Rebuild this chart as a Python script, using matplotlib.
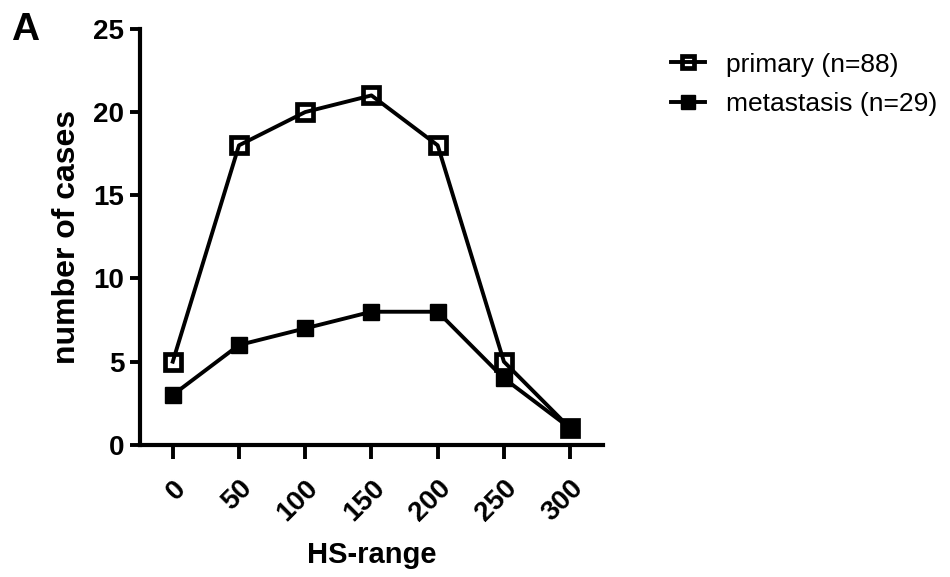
import matplotlib
matplotlib.use("Agg")
import matplotlib.pyplot as plt

plt.rcParams["font.family"] = ["Liberation Sans", "DejaVu Sans"]

hs_range = [0, 50, 100, 150, 200, 250, 300]
primary = [5, 18, 20, 21, 18, 5, 1]
metastasis = [3, 6, 7, 8, 8, 4, 1]
labels = ["primary (n=88)", "metastasis (n=29)"]

fig = plt.figure(figsize=(9.5, 5.77), dpi=100)
ax = fig.add_axes([0.147, 0.229, 0.488, 0.721])

# open squares are hollow: the connecting line shows through them
ax.plot(hs_range, primary, color="black", lw=2.8, marker="s", ms=11,
        mfc="none", mec="black", mew=3.4, label=labels[0], zorder=3, clip_on=False)
ax.plot(hs_range, metastasis, color="black", lw=2.8, marker="s", ms=11.5,
        mfc="black", mec="black", label=labels[1], zorder=2, clip_on=False)

ax.set_xlim(-25, 325)
ax.set_ylim(0, 25)
ax.set_xticks(hs_range)
ax.set_yticks([0, 5, 10, 15, 20, 25])
ax.set_xticklabels([str(v) for v in hs_range], rotation=45, ha="right",
                   rotation_mode="anchor", fontsize=20, fontweight="bold")
ax.set_yticklabels(["0", "5", "10", "15", "20", "25"], fontsize=20, fontweight="bold")
ax.tick_params(axis="both", width=2.8, length=7, direction="out")
ax.tick_params(axis="x", length=10, pad=12)
ax.tick_params(axis="y", pad=4)

for s in ["top", "right"]:
    ax.spines[s].set_visible(False)
for s in ["left", "bottom"]:
    ax.spines[s].set_linewidth(3)

ax.set_xlabel("HS-range", fontsize=21, fontweight="bold", labelpad=10)
ax.set_ylabel("number of cases", fontsize=23, fontweight="bold", labelpad=8)

fig.text(0.012, 0.93, "A", fontsize=28, fontweight="bold")

ax.legend(loc="upper left", bbox_to_anchor=(1.095, 1.0), frameon=False,
          fontsize=19, handlelength=1.3, handletextpad=0.8, labelspacing=0.6,
          markerscale=0.85)

fig.savefig("out.png", dpi=100)
